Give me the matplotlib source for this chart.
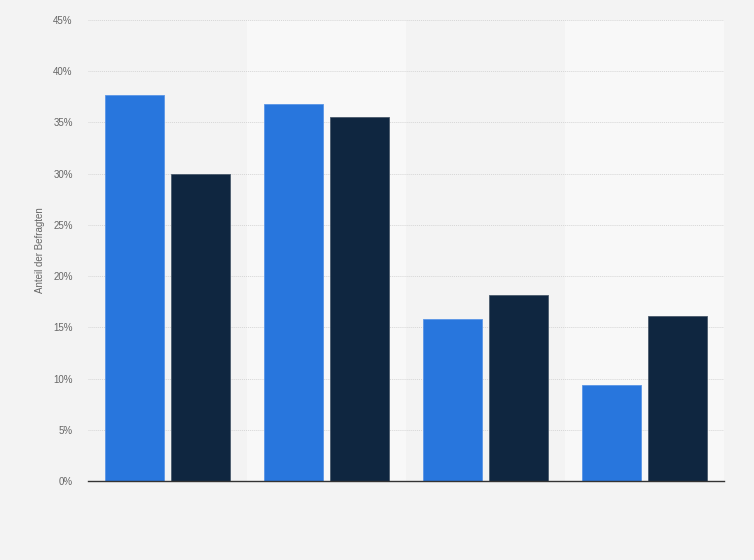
import matplotlib.pyplot as plt
import numpy as np

# values (percent)
categories = ["1", "2", "3", "4"]
series_a = [37.7, 36.8, 15.8, 9.4]
series_b = [30.0, 35.5, 18.2, 16.1]
yticks = [0, 5, 10, 15, 20, 25, 30, 35, 40, 45]

plt.rcParams['font.family'] = ['Liberation Sans', 'DejaVu Sans']

fig = plt.figure(figsize=(7.54, 5.6), dpi=100)
fig.patch.set_facecolor("#f3f3f3")
ax = fig.add_axes([0.1167, 0.1411, 0.8435, 0.8232])
ax.set_facecolor("#f3f3f3")

x = np.arange(len(categories))
width = 0.377
offset = 0.2075

# alternating category bands
for i in x:
    if i % 2 == 1:
        ax.axvspan(i - 0.5, i + 0.5, color="#f8f8f8", zorder=0, lw=0)

ax.bar(x - offset, series_a, width, color="#2876dd", edgecolor="#5a95e6", linewidth=0.6, zorder=3)
ax.bar(x + offset, series_b, width, color="#0f2640", edgecolor="#4a5a6c", linewidth=0.6, zorder=3)

ax.set_xlim(-0.5, len(categories) - 0.5)
ax.set_ylim(0, 45)
ax.set_yticks(yticks)
ax.set_yticklabels([f"{t}%" for t in yticks], fontsize=7, color="#666666")
ax.set_xticks([])
ax.tick_params(axis='y', length=0, pad=11)
ax.grid(axis='y', color="#d6d6d6", linestyle=(0, (1, 1)), linewidth=0.7, zorder=1)

for s in ["top", "right", "left"]:
    ax.spines[s].set_visible(False)
ax.spines["bottom"].set_color("#333333")
ax.spines["bottom"].set_linewidth(1.0)
ax.spines["bottom"].set_zorder(4)

ax.set_ylabel("Anteil der Befragten", fontsize=7, color="#666666", labelpad=6)

fig.savefig("out.png", dpi=100, facecolor=fig.get_facecolor())
